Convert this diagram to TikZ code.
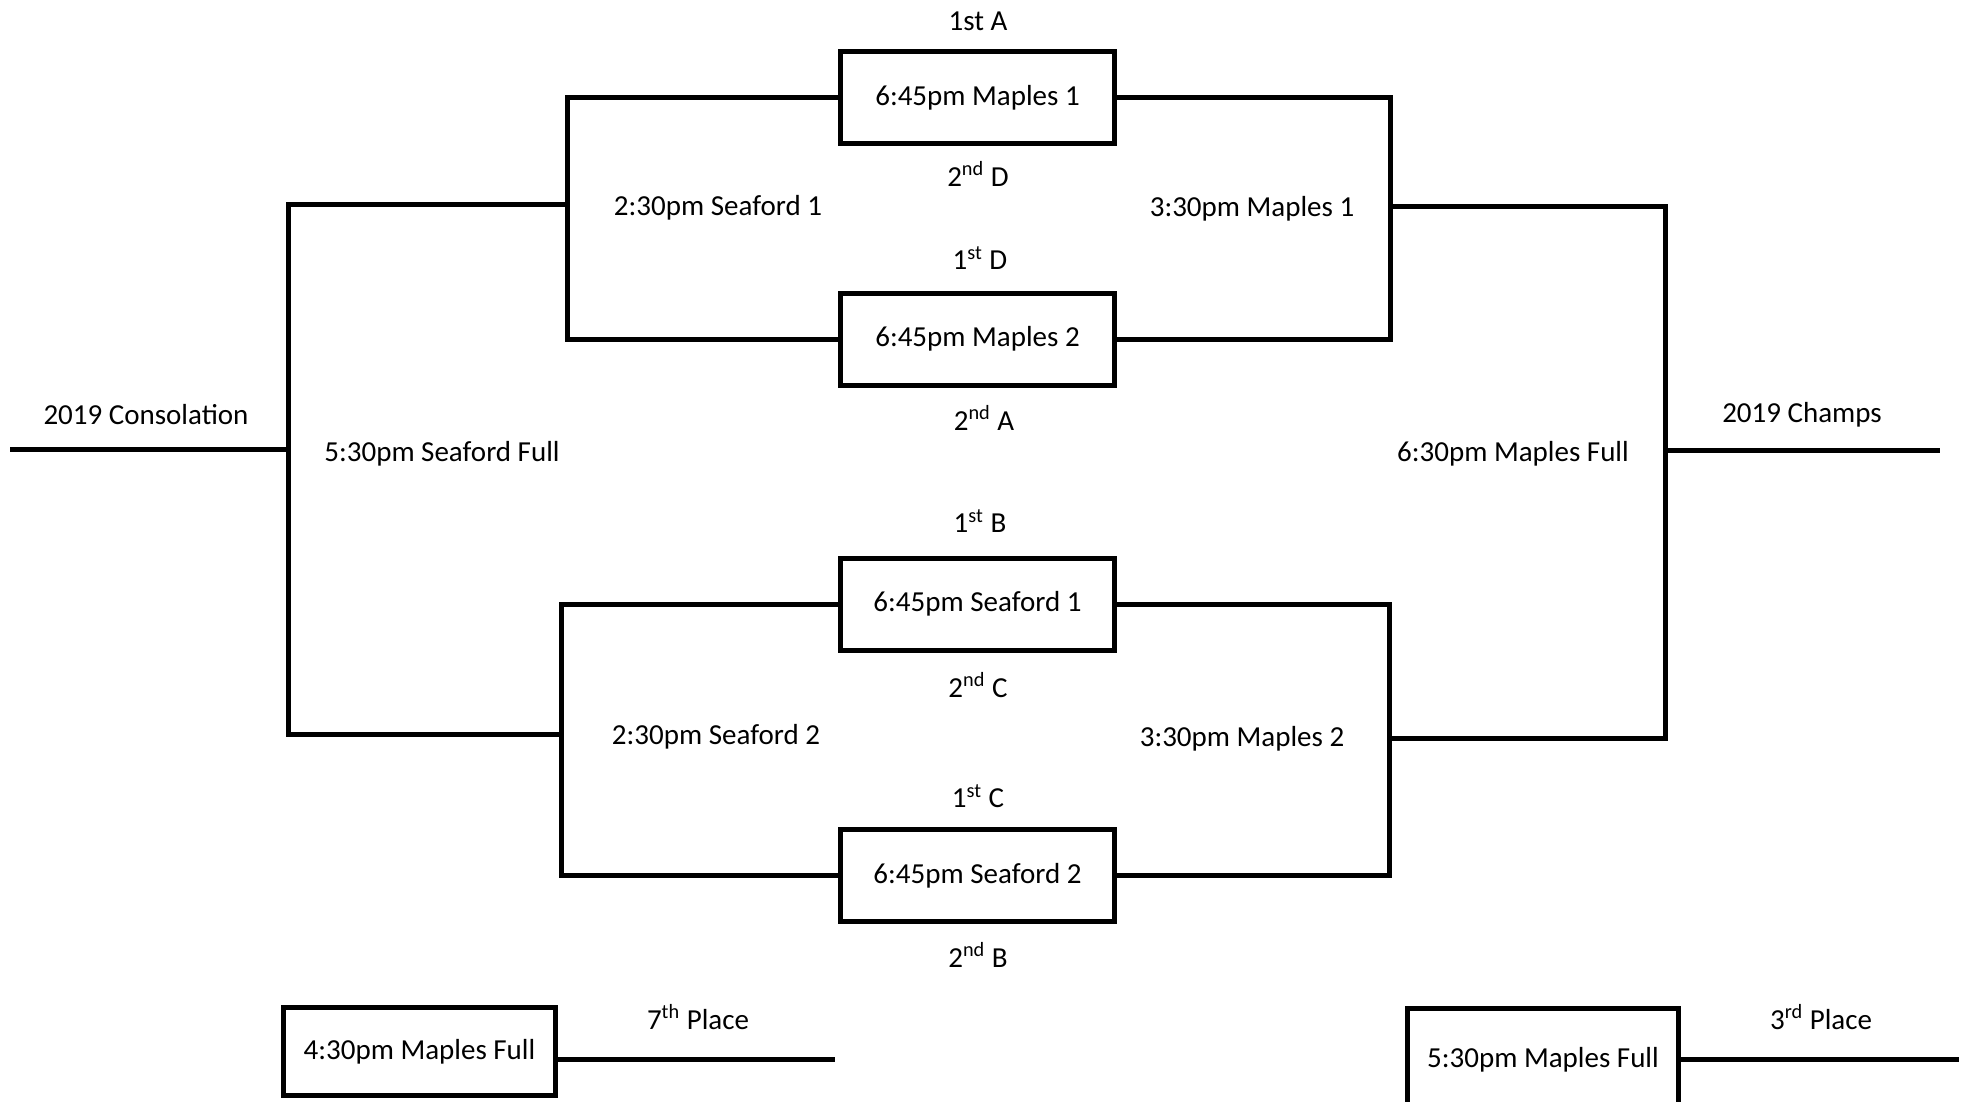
\documentclass[tikz,border=0pt]{standalone}
\usepackage{fontspec}
\setmainfont{Carlito}
\usepackage{tikz}
\usetikzlibrary{positioning, calc}

\begin{document}
\begin{tikzpicture}[
    x=0.5pt, y=-0.5pt,
    every node/.style={font=\fontsize{14.5}{17}\selectfont, inner sep=0pt},
    game/.style={draw, line width=2.5pt, minimum width=137pt, minimum height=46pt},
    lbl/.style={},
    bline/.style={line width=2.5pt},
]
    \useasboundingbox (0,0) rectangle (1969,1102);

    % quarter-final games in the centre column.
    \node[game] (m1) at (977.5, 97.5) {6:45pm Maples 1};
    \node[game] (m2) at (977.5, 339) {6:45pm Maples 2};
    \node[game] (s1) at (977.5, 604) {6:45pm Seaford 1};
    \node[game] (s2) at (977.5, 875.5) {6:45pm Seaford 2};

    % seeds above and below each game.
    \node[lbl] (a1) at (978, 21) {1st A};
    \node[lbl] (d2) at (978, 174) {2\textsuperscript{nd} D};
    \node[lbl] (d1) at (980, 258) {1\textsuperscript{st} D};
    \node[lbl] (a2) at (984, 418) {2\textsuperscript{nd} A};
    \node[lbl] (b1) at (980, 521) {1\textsuperscript{st} B};
    \node[lbl] (c2) at (978, 685) {2\textsuperscript{nd} C};
    \node[lbl] (c1) at (978, 796) {1\textsuperscript{st} C};
    \node[lbl] (b2) at (978, 955) {2\textsuperscript{nd} B};

    % semi-final junctions.
    \coordinate (sf1) at (567, 204);
    \coordinate (sf2) at (561, 734);
    \coordinate (mp1) at (1390, 206);
    \coordinate (mp2) at (1389, 738);
    \coordinate (sfull) at (288, 449);
    \coordinate (mfull) at (1665, 450);
    \coordinate (cons) at (10, 449);
    \coordinate (champ) at (1940, 450);

    % left half: consolation side.
    \draw[bline] (m1.west) -| (sf1) |- (m2.west);
    \draw[bline] (s1.west) -| (sf2) |- (s2.west);
    \draw[bline] (sf1) -| (sfull) |- (sf2);
    \draw[bline] (sfull) -- (cons);

    % right half: championship side.
    \draw[bline] (m1.east) -| (mp1) |- (m2.east);
    \draw[bline] (s1.east) -| (mp2) |- (s2.east);
    \draw[bline] (mp1) -| (mfull) |- (mp2);
    \draw[bline] (mfull) -- (champ);

    % round names.
    \node[lbl] (sea1) at (718, 208) {2:30pm Seaford 1};
    \node[lbl] (sea2) at (716, 737) {2:30pm Seaford 2};
    \node[lbl] (map1) at (1252, 209) {3:30pm Maples 1};
    \node[lbl] (map2) at (1242, 739) {3:30pm Maples 2};
    \node[lbl] (seafull) at (442, 454) {5:30pm Seaford Full};
    \node[lbl] (mapfull) at (1513, 454) {6:30pm Maples Full};
    \node[lbl] (conslbl) at (146, 415) {2019 Consolation};
    \node[lbl] (champlbl) at (1802, 415) {2019 Champs};

    % placement games at the bottom.
    \node[game, minimum width=136pt, minimum height=44pt] (g7) at (419.5, 1051.5) {4:30pm Maples Full};
    \coordinate (p7) at (835, 1059);
    \draw[bline] (g7.east |- p7) -- (p7);
    \node[lbl] (p7lbl) at (698, 1017) {7\textsuperscript{th} Place};

    \node[game, minimum width=135.5pt, minimum height=52pt] (g3) at (1543, 1060) {5:30pm Maples Full};
    \coordinate (p3) at (1959, 1059);
    \draw[bline] (g3.east |- p3) -- (p3);
    \node[lbl] (p3lbl) at (1821, 1017) {3\textsuperscript{rd} Place};
\end{tikzpicture}
\end{document}
